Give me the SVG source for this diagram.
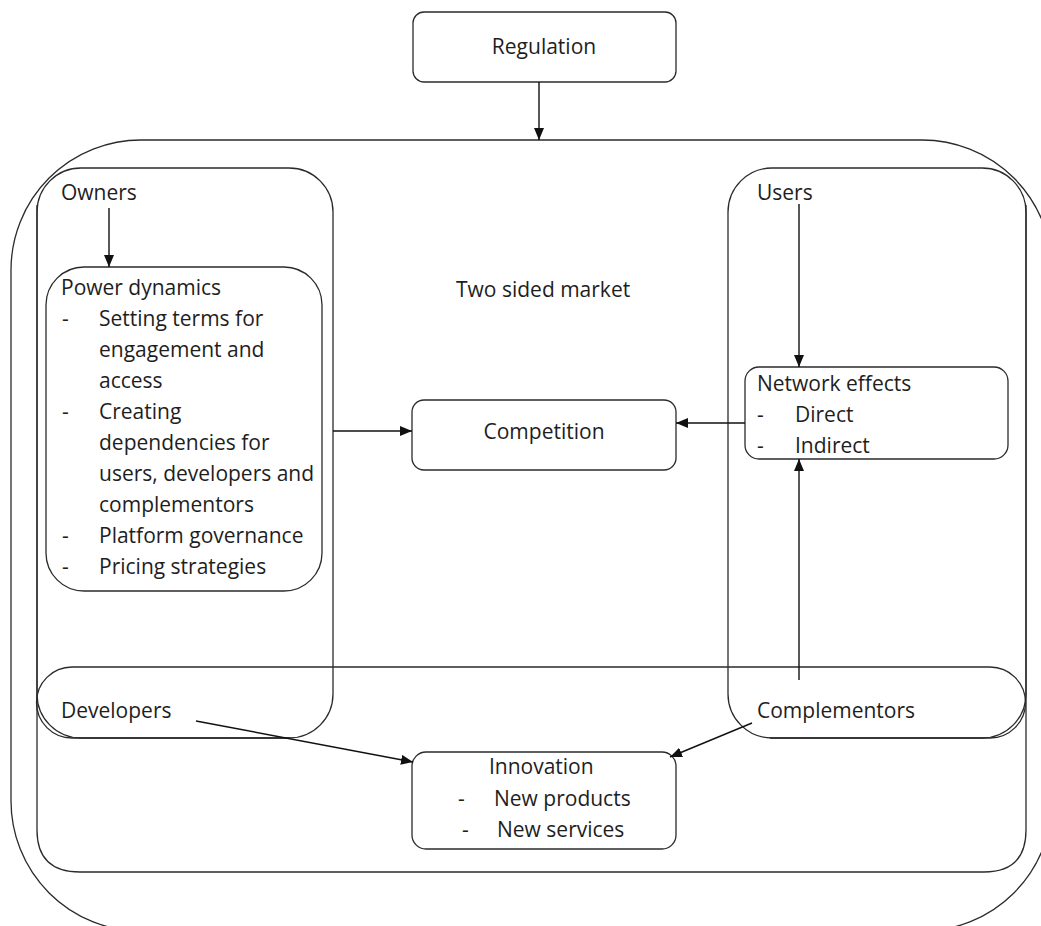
<svg xmlns="http://www.w3.org/2000/svg" width="1041" height="926" viewBox="0 0 1041 926">
<style>
.s{fill:none;stroke:#2b2b2b;stroke-width:1.3}
.b{fill:#fff;stroke:#2b2b2b;stroke-width:1.3}
.t{font-family:"Open Sans","Liberation Sans",sans-serif;font-size:21px;fill:#1e1e1e}
.c{text-anchor:middle}
.l{fill:none;stroke:#111;stroke-width:1.4}
</style>
<defs>
<marker id="ah" viewBox="0 0 12 10" refX="12" refY="5" markerWidth="12" markerHeight="10" markerUnits="userSpaceOnUse" orient="auto">
<path d="M0,0 L12,5 L0,10 Z" fill="#111"/>
</marker>
</defs>
<rect width="1041" height="926" fill="#fff"/>
<g id="outer"><rect class="s" x="11" y="140" width="1041" height="791" rx="130" ry="130"/></g>
<g id="market">
<path class="s" d="M37,205 V830 Q37,872 80,872 H984 Q1026,872 1026,830 V205"/>
<text class="t" x="456" y="297">Two sided market</text>
</g>
<g id="owners">
<rect class="s" x="37" y="168" width="296" height="570" rx="44"/>
<text class="t" x="61" y="200">Owners</text>
</g>
<g id="users">
<rect class="s" x="728" y="168" width="298" height="570" rx="44"/>
<text class="t" x="757" y="200">Users</text>
</g>
<g id="sides">
<path class="s" d="M290,738 H72 A35.5,35.5 0 0 1 72,667 H990 A35.5,35.5 0 0 1 990,738 H770"/>
<text class="t" x="61" y="718">Developers</text>
<text class="t" x="757" y="718">Complementors</text>
</g>
<g id="regulation">
<rect class="b" x="413" y="12" width="263" height="70" rx="11"/>
<text class="t c" x="544" y="54">Regulation</text>
</g>
<g id="power">
<rect class="b" x="46" y="267" width="276" height="324" rx="38"/>
<text class="t"><tspan x="61" y="295">Power dynamics</tspan>
<tspan x="62" y="326">-</tspan><tspan x="99" y="326">Setting terms for</tspan>
<tspan x="99" y="357">engagement and</tspan>
<tspan x="99" y="388">access</tspan>
<tspan x="62" y="419">-</tspan><tspan x="99" y="419">Creating</tspan>
<tspan x="99" y="450">dependencies for</tspan>
<tspan x="99" y="481">users, developers and</tspan>
<tspan x="99" y="512">complementors</tspan>
<tspan x="62" y="543">-</tspan><tspan x="99" y="543">Platform governance</tspan>
<tspan x="62" y="574">-</tspan><tspan x="99" y="574">Pricing strategies</tspan></text>
</g>
<g id="competition">
<rect class="b" x="412" y="400" width="264" height="70" rx="12"/>
<text class="t c" x="544" y="439">Competition</text>
</g>
<g id="network">
<rect class="b" x="745" y="367" width="263" height="92" rx="14"/>
<text class="t"><tspan x="757" y="391">Network effects</tspan>
<tspan x="757" y="422">-</tspan><tspan x="795" y="422">Direct</tspan>
<tspan x="757" y="453">-</tspan><tspan x="795" y="453">Indirect</tspan></text>
</g>
<g id="innovation">
<rect class="b" x="412" y="752" width="264" height="97" rx="14"/>
<text class="t"><tspan class="c" x="544" y="774">Innovation</tspan>
<tspan x="458" y="806">-</tspan><tspan x="494" y="806">New products</tspan>
<tspan x="462" y="837">-</tspan><tspan x="497" y="837">New services</tspan></text>
</g>
<g id="connectors">
<line class="l" x1="539" y1="82" x2="539" y2="140" marker-end="url(#ah)"/>
<line class="l" x1="109" y1="208" x2="109" y2="267" marker-end="url(#ah)"/>
<line class="l" x1="799" y1="204" x2="799" y2="367" marker-end="url(#ah)"/>
<line class="l" x1="333" y1="431" x2="412" y2="431" marker-end="url(#ah)"/>
<line class="l" x1="745" y1="423" x2="676" y2="423" marker-end="url(#ah)"/>
<line class="l" x1="799" y1="680" x2="799" y2="459" marker-end="url(#ah)"/>
<line class="l" x1="196" y1="721" x2="413" y2="762" marker-end="url(#ah)"/>
<line class="l" x1="752" y1="723" x2="670" y2="757" marker-end="url(#ah)"/>
</g>
</svg>
